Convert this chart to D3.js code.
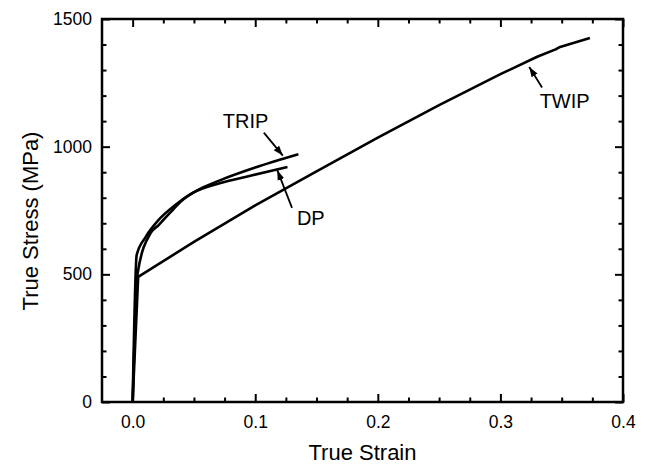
<!DOCTYPE html>
<html>
<head>
<meta charset="utf-8">
<script src="https://cdn.jsdelivr.net/npm/d3@7"></script>
<style>
    body { margin: 0; background: #fff; }
    text { font-family: "Liberation Sans", Arial, sans-serif; fill: #000; }
</style>
</head>
<body>
<div id="chart"></div>
<script>
// data
const strainTicks = [0.0, 0.1, 0.2, 0.3, 0.4];
const stressTicks = [0, 500, 1000, 1500];

const twipStrain = [0, 0.0045, 0.05, 0.1, 0.15, 0.2, 0.25, 0.3, 0.33, 0.345, 0.348, 0.373];
const twipStress = [0, 490, 627, 770, 903, 1035, 1163, 1284, 1352, 1381, 1389, 1426];

const dpStrain = [0, 0.0033, 0.0106, 0.0212, 0.035, 0.0489, 0.0717, 0.096, 0.1263];
const dpStress = [0, 576, 646, 713, 772, 819, 858, 886, 920];

const tripStrain = [0, 0.0041, 0.0147, 0.0212, 0.031, 0.0407, 0.055, 0.0717, 0.1, 0.1352];
const tripStress = [0, 505, 662, 693, 744, 791, 835, 869, 918, 970];

// labels: text position and arrow (from -> tip)
const labels = [
    {name: "TRIP", tx: 0.0735, ty: 1073, x1: 0.107, y1: 1055, x2: 0.1225, y2: 965},
    {name: "DP",   tx: 0.134,  ty: 693,  x1: 0.130, y1: 760,  x2: 0.118,  y2: 908},
    {name: "TWIP", tx: 0.332,  ty: 1152, x1: 0.334, y1: 1232, x2: 0.3235, y2: 1312}
];

drawChart();

function drawChart(){

    var margin = {top: 19, right: 29, bottom: 62, left: 102},
        W = 652, H = 464,
        width = W - margin.left - margin.right,
        height = H - margin.top - margin.bottom;

    let svg = d3.select("#chart")
        .append("svg")
        .attr("width", W)
        .attr("height", H);

    let g = svg.append("g")
        .attr("transform", "translate(" + margin.left + "," + margin.top + ")");

    var x = d3.scaleLinear().domain([-0.025, 0.4]).range([0, width]);
    var y = d3.scaleLinear().domain([0, 1500]).range([height, 0]);

    var minorX = d3.range(0, 0.4001, 0.025).filter(v => Math.abs(v * 10 - Math.round(v * 10)) > 1e-6);
    var minorY = d3.range(100, 1500, 100).filter(v => v % 500 != 0);

    // axes, ticks pointing inward, mirrored on top and right
    function styleAxis(sel){
        sel.select(".domain").remove();
        sel.selectAll("line").attr("stroke", "#000").attr("stroke-width", 2);
        sel.selectAll("text").style("font-size", "17.5px");
    }

    g.append("g")
        .attr("transform", "translate(0," + height + ")")
        .call(d3.axisBottom(x).tickValues(strainTicks).tickFormat(d3.format(".1f"))
            .tickSizeInner(-8).tickPadding(14))
        .call(styleAxis);
    g.append("g")
        .attr("transform", "translate(0," + height + ")")
        .call(d3.axisBottom(x).tickValues(minorX).tickFormat("").tickSizeInner(-4.5))
        .call(styleAxis);
    g.append("g")
        .call(d3.axisTop(x).tickValues(strainTicks).tickFormat("").tickSizeInner(-8))
        .call(styleAxis);
    g.append("g")
        .call(d3.axisTop(x).tickValues(minorX).tickFormat("").tickSizeInner(-4.5))
        .call(styleAxis);

    g.append("g")
        .call(d3.axisLeft(y).tickValues(stressTicks).tickFormat(d3.format("d"))
            .tickSizeInner(-8).tickPadding(10))
        .call(styleAxis);
    g.append("g")
        .call(d3.axisLeft(y).tickValues(minorY).tickFormat("").tickSizeInner(-4.5))
        .call(styleAxis);
    g.append("g")
        .attr("transform", "translate(" + width + ",0)")
        .call(d3.axisRight(y).tickValues(stressTicks).tickFormat("").tickSizeInner(-8))
        .call(styleAxis);
    g.append("g")
        .attr("transform", "translate(" + width + ",0)")
        .call(d3.axisRight(y).tickValues(minorY).tickFormat("").tickSizeInner(-4.5))
        .call(styleAxis);

    // frame
    g.append("rect")
        .attr("width", width)
        .attr("height", height)
        .attr("fill", "none")
        .attr("stroke", "#000")
        .attr("stroke-width", 2.5);

    // curves: TWIP nearly straight, DP and TRIP rounded
    const straight = d3.line()
        .x(d => x(d[0]))
        .y(d => y(d[1]));
    const smooth = d3.line()
        .x(d => x(d[0]))
        .y(d => y(d[1]))
        .curve(d3.curveMonotoneX);

    [[twipStrain, twipStress, straight], [dpStrain, dpStress, smooth], [tripStrain, tripStress, smooth]].forEach(s => {
        g.append("path")
            .datum(d3.zip(s[0], s[1]))
            .attr("d", s[2])
            .attr("fill", "none")
            .attr("stroke", "#000")
            .attr("stroke-width", 2.6)
            .attr("stroke-linejoin", "round");
    });

    // arrow head
    svg.append("defs").append("marker")
        .attr("id", "head")
        .attr("viewBox", "0 0 10 10")
        .attr("refX", 10).attr("refY", 5)
        .attr("markerWidth", 10).attr("markerHeight", 10)
        .attr("markerUnits", "userSpaceOnUse")
        .attr("orient", "auto")
        .append("path")
        .attr("d", "M0,1.5 L10,5 L0,8.5 Z")
        .attr("fill", "#000");

    labels.forEach(d => {
        g.append("line")
            .attr("x1", x(d.x1)).attr("y1", y(d.y1))
            .attr("x2", x(d.x2)).attr("y2", y(d.y2))
            .attr("stroke", "#000")
            .attr("stroke-width", 1.8)
            .attr("marker-end", "url(#head)");
        g.append("text")
            .attr("x", x(d.tx))
            .attr("y", y(d.ty))
            .style("font-size", "20px")
            .text(d.name);
    });

    // axis titles
    svg.append("text")
        .attr("x", margin.left + width / 2)
        .attr("y", 460)
        .attr("text-anchor", "middle")
        .style("font-size", "22px")
        .text("True Strain");
    svg.append("text")
        .attr("transform", "translate(38," + 221 + ") rotate(-90)")
        .attr("text-anchor", "middle")
        .style("font-size", "22px")
        .text("True Stress (MPa)");
}
</script>
</body>
</html>
